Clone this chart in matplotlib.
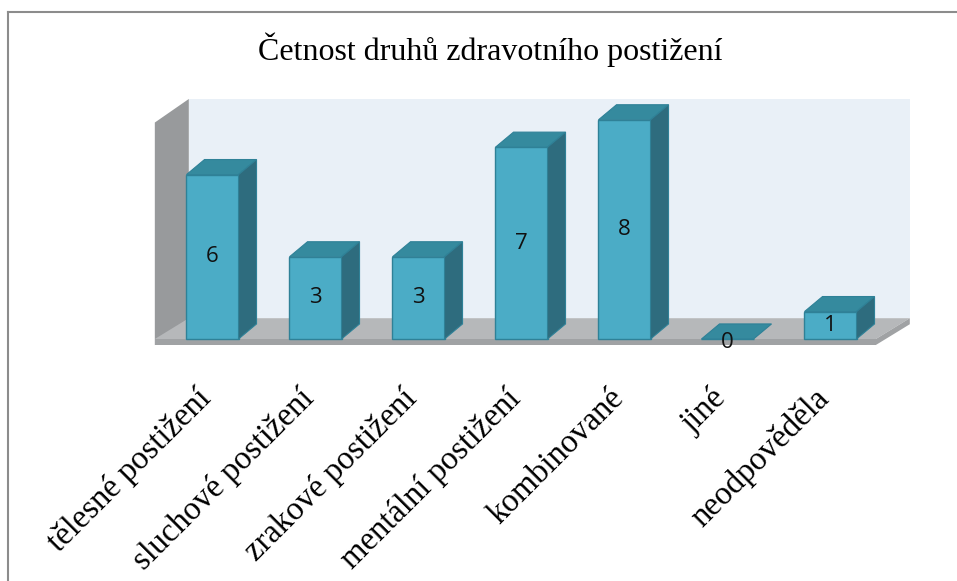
import matplotlib
matplotlib.use("Agg")
import matplotlib.pyplot as plt
from matplotlib.patches import Polygon
from matplotlib.lines import Line2D

# data
categories = ["tělesné postižení", "sluchové postižení", "zrakové postižení",
              "mentální postižení", "kombinované", "jiné", "neodpověděla"]
values = [6, 3, 3, 7, 8, 0, 1]
title = "Četnost druhů zdravotního postižení"
y_max = 8

# colours
c_front = "#4BACC6"
c_top = "#358A9E"
c_side = "#2E6C7E"
c_edge = "#2F8197"
c_back = "#E9F0F7"
c_lwall = "#989A9C"
c_floor = "#B6B8BA"
c_floor_edge = "#A0A2A4"

W, H = 957, 581
fig = plt.figure(figsize=(W / 100, H / 100), dpi=100)
ax = fig.add_axes([0, 0, 1, 1])
ax.axis("off")

# pixel anchors -> data limits (category 0 centred at px 212.5, 103 px per category, 27.4 px per unit)
x0_px, x_step = 212.5, 103.0
y0_px, y_step = 339.0, 27.4
ax.set_xlim(-x0_px / x_step, (W - x0_px) / x_step)
ax.set_ylim((y0_px - H) / y_step, y0_px / y_step)

n = len(values)
bw = 0.505          # bar width
bdx, bdy = 0.175, 0.55   # bar depth
wdx, wdy = 0.33, 0.76    # wall depth
fx0, fx1 = -0.56, n - 0.56   # floor front edges
slab = 0.22

# back wall
ax.add_patch(Polygon([(fx0 + wdx, wdy), (fx1 + wdx, wdy), (fx1 + wdx, y_max + wdy),
                      (fx0 + wdx, y_max + wdy)], closed=True, fc=c_back, ec="none"))
# left wall
ax.add_patch(Polygon([(fx0, -slab), (fx0, y_max - 0.1), (fx0 + wdx, y_max + wdy),
                      (fx0 + wdx, wdy)], closed=True, fc=c_lwall, ec="none"))
# floor
ax.add_patch(Polygon([(fx0, 0), (fx1, 0), (fx1 + wdx, wdy), (fx0 + wdx, wdy)],
                     closed=True, fc=c_floor, ec="none"))
ax.add_patch(Polygon([(fx0, 0), (fx1, 0), (fx1, -slab), (fx0, -slab)],
                     closed=True, fc=c_floor_edge, ec="none"))
ax.add_patch(Polygon([(fx1, 0), (fx1 + wdx, wdy), (fx1 + wdx, wdy - slab), (fx1, -slab)],
                     closed=True, fc=c_floor_edge, ec="none"))

# bars
xs = list(range(n))
ax.bar(xs, values, width=bw, color=c_front, edgecolor=c_edge, linewidth=1.0, zorder=3)
for x, v in zip(xs, values):
    l, r = x - bw / 2, x + bw / 2
    ax.add_patch(Polygon([(l, v), (r, v), (r + bdx, v + bdy), (l + bdx, v + bdy)],
                         closed=True, fc=c_top, ec=c_edge, lw=0.8, zorder=3))
    if v > 0:
        ax.add_patch(Polygon([(r, 0), (r + bdx, bdy), (r + bdx, v + bdy), (r, v)],
                             closed=True, fc=c_side, ec=c_edge, lw=0.8, zorder=3))
    ty = v / 2 if v > 0 else -0.12
    ax.text(x, ty, str(v), ha="center", va="center", fontsize=16,
            family="Open Sans", color="#111111", zorder=5)

# category labels
for x, lab in zip(xs, categories):
    ax.text(x + 0.05, -1.6, lab, rotation=45, ha="right", va="top",
            fontsize=23.5, family="Liberation Serif", color="black")

# title
fig.text(490 / W, 1 - 50 / H, title, ha="center", va="center",
         fontsize=23, family="Liberation Serif", color="black")

# chart border
bx, by = 8 / W, 1 - 12 / H
fig.add_artist(Line2D([bx, bx], [0, by], color="#8C8C8C", lw=1.5))
fig.add_artist(Line2D([bx, 1], [by, by], color="#8C8C8C", lw=1.5))

fig.savefig("out.png", dpi=100)
